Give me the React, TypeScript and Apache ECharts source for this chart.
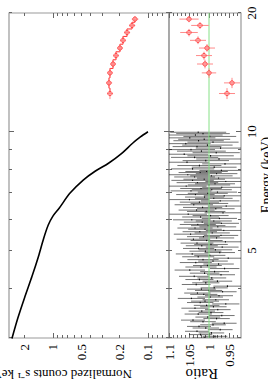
import React, { useEffect, useRef } from "react";
import * as echarts from "echarts";

// ---- tick / label values ----
const energyMajorTicks = [10];
const energyMinorTicks = [3, 4, 5, 6, 7, 8, 9, 20];
const energyLabels = [5, 10, 20];
const countMajorTicks = [0.1, 1];
const countMinorTicks = [0.06, 0.07, 0.08, 0.09, 0.2, 0.3, 0.4, 0.5, 0.6, 0.7, 0.8, 0.9, 2];
const countLabels = [0.1, 0.2, 0.5, 1, 2];
const ratioMajorTicks = [0.95, 1, 1.05, 1.1];
const ratioMinorTicks = [0.93, 0.94, 0.96, 0.97, 0.98, 0.99, 1.01, 1.02, 1.03, 1.04, 1.06, 1.07, 1.08, 1.09];
const ratioLabels = [0.95, 1, 1.05, 1.1];

// ---- black spectrum (counts panel) ----
const blackCurveE = [2.99, 3.37, 3.82, 4.3, 4.83, 5.37, 5.8, 6.11, 6.4, 6.99, 7.54, 7.94, 8.32, 8.8, 9.35, 9.7, 10.0];
const blackCurveC = [2.7, 2.34, 1.97, 1.66, 1.42, 1.25, 1.12, 1.0, 0.86, 0.66, 0.48, 0.36, 0.26, 0.19, 0.145, 0.12, 0.1];

// ---- black ratio data ----
const blackE = [
  3.0, 3.03, 3.06, 3.09, 3.12, 3.15, 3.18, 3.21, 3.24, 3.27, 3.3, 3.33, 3.36, 3.39, 3.42, 3.45, 3.48, 3.51, 3.54, 3.57,
  3.6, 3.63, 3.66, 3.69, 3.72, 3.75, 3.78, 3.81, 3.84, 3.87, 3.9, 3.93, 3.96, 3.99,
  4.02, 4.06, 4.1, 4.14, 4.18, 4.22, 4.26, 4.3, 4.34, 4.38, 4.42, 4.46, 4.5, 4.54, 4.58, 4.62, 4.66, 4.7, 4.74, 4.78,
  4.82, 4.86, 4.9, 4.94, 4.98, 5.02, 5.06, 5.1, 5.14, 5.18, 5.22, 5.26, 5.3, 5.34, 5.38, 5.42, 5.46, 5.5, 5.54, 5.58,
  5.62, 5.66, 5.7, 5.74, 5.78, 5.82, 5.86, 5.9, 5.94, 5.98,
  6.03, 6.08, 6.13, 6.18, 6.23, 6.28, 6.33, 6.38, 6.43, 6.48, 6.53, 6.58, 6.63, 6.68, 6.73, 6.78, 6.83, 6.88, 6.93, 6.98,
  7.03, 7.08, 7.13, 7.18, 7.23, 7.28, 7.33, 7.38, 7.43, 7.48, 7.53, 7.58, 7.63, 7.68, 7.73, 7.78, 7.83, 7.88, 7.93, 7.98,
  8.05, 8.13, 8.21, 8.29, 8.37, 8.45, 8.53, 8.61, 8.69, 8.77, 8.85, 8.93, 9.01, 9.09, 9.17, 9.25, 9.33, 9.41, 9.49, 9.57,
  9.65, 9.73, 9.81, 9.89, 9.97,
];
const blackRatio = [
  1.012, 0.985, 1.021, 0.994, 1.03, 0.972, 1.008, 1.025, 0.99, 0.962,
  1.015, 1.04, 0.981, 1.003, 0.968, 1.027, 0.995, 1.018, 0.978, 1.035,
  0.989, 1.006, 0.958, 1.022, 1.01, 0.983, 1.044, 0.997, 0.975, 1.013,
  1.029, 0.966, 1.001, 1.019,
  0.987, 0.954, 1.032, 1.008, 0.979, 1.024, 0.993, 1.037, 0.97, 1.011,
  0.986, 1.048, 0.961, 1.02, 1.004, 0.976, 1.033, 0.99, 1.015, 0.952,
  1.027, 0.998, 1.042, 0.973, 1.009, 0.984, 1.026, 0.967, 1.018, 0.995,
  1.03, 0.959, 1.006, 1.039, 0.981, 1.014, 0.97, 1.046, 0.992, 1.023,
  0.963, 1.01, 1.035, 0.978, 1.002, 1.028, 0.969, 1.017, 0.988, 1.043,
  0.974, 1.021, 0.996, 1.052, 0.965, 1.007, 1.031, 0.983, 1.016, 0.957,
  1.038, 0.999, 1.024, 0.972, 1.049, 0.988, 1.011, 0.962, 1.034, 1.003,
  0.979, 1.045, 0.993, 1.02, 0.968, 1.057, 1.0, 0.985, 1.029, 0.958,
  1.041, 1.012, 0.976, 1.036, 0.994, 1.053, 0.981, 1.022, 1.006, 0.969,
  1.041, 0.987, 1.024, 0.96, 1.055, 1.008, 0.975, 1.036, 0.996, 1.062,
  0.982, 1.019, 1.045, 0.971, 1.03, 1.004, 1.058, 0.99, 1.026, 1.012,
  1.048, 0.998, 1.034, 1.015, 1.027,
];
const blackRatioErr = [
  0.03, 0.031, 0.029, 0.032, 0.03, 0.031, 0.033, 0.03, 0.032, 0.031,
  0.032, 0.03, 0.033, 0.031, 0.032, 0.034, 0.031, 0.033, 0.032, 0.034,
  0.033, 0.032, 0.034, 0.033, 0.035, 0.033, 0.034, 0.032, 0.035, 0.034,
  0.033, 0.035, 0.034, 0.036,
  0.034, 0.035, 0.036, 0.034, 0.037, 0.035, 0.036, 0.038, 0.035, 0.037,
  0.036, 0.038, 0.037, 0.039, 0.036, 0.038, 0.04, 0.037, 0.039, 0.038,
  0.04, 0.039, 0.041, 0.038, 0.04, 0.042, 0.039, 0.041, 0.04, 0.042,
  0.041, 0.043, 0.04, 0.042, 0.044, 0.041, 0.043, 0.042, 0.044, 0.043,
  0.045, 0.042, 0.044, 0.046, 0.043, 0.045, 0.044, 0.046, 0.045, 0.047,
  0.044, 0.046, 0.045, 0.047, 0.046, 0.048, 0.045, 0.047, 0.049, 0.046,
  0.048, 0.047, 0.049, 0.048, 0.05, 0.047, 0.049, 0.051, 0.048, 0.05,
  0.049, 0.051, 0.05, 0.052, 0.049, 0.051, 0.053, 0.05, 0.052, 0.051,
  0.053, 0.052, 0.054, 0.051, 0.053, 0.055, 0.052, 0.054, 0.053, 0.055,
  0.054, 0.056, 0.055, 0.057, 0.056, 0.058, 0.057, 0.059, 0.058, 0.06,
  0.059, 0.061, 0.06, 0.062, 0.061, 0.063, 0.062, 0.064, 0.063, 0.065,
  0.064, 0.066, 0.068, 0.067, 0.07,
];

// ---- red data ----
const redE = [12.5, 13.3, 14.1, 14.85, 15.6, 16.3, 17.05, 17.85, 18.6, 19.3];
const redCounts = [0.251, 0.257, 0.251, 0.233, 0.217, 0.197, 0.183, 0.166, 0.147, 0.137];
const redCountsErr = [0.018, 0.019, 0.017, 0.016, 0.015, 0.014, 0.013, 0.012, 0.011, 0.011];
const redRatio = [0.955, 0.9425, 1.0, 1.01, 1.0125, 1.005, 1.0275, 1.05, 1.0225, 1.05];
const redRatioErr = [0.02, 0.02, 0.018, 0.02, 0.02, 0.02, 0.02, 0.022, 0.022, 0.024];

// ---- unity line ----
const unityE = [3, 20];
const unityRatio = [1, 1];

const FONT = "'Liberation Serif','Times New Roman',Times,serif";
const TICK = { color: "#666", width: 1 };

function edges(e: number[]) {
  return e.map((v, i) => {
    const lo = i > 0 ? (e[i - 1] + v) / 2 : v - (e[i + 1] - v) / 2;
    const hi = i < e.length - 1 ? (v + e[i + 1]) / 2 : v + (v - e[i - 1]) / 2;
    return [lo, hi];
  });
}

const fmt = (v: number) => String(parseFloat(Number(v).toPrecision(3)));

function xAx(grid: number, pos: string, ticks: number[], len: number, labels?: boolean) {
  return {
    type: "log",
    logBase: 10,
    gridIndex: grid,
    position: pos,
    min: 3,
    max: 20,
    axisLine: { show: false, onZero: false },
    axisTick: { show: true, inside: true, length: len, customValues: ticks, lineStyle: TICK },
    axisLabel: labels
      ? { show: true, customValues: energyLabels, margin: 4, fontSize: 13, fontFamily: FONT, color: "#000", formatter: fmt, showMinLabel: true, showMaxLabel: true }
      : { show: false },
    splitLine: { show: false },
  };
}

function yAx(grid: number, pos: string, kind: "log" | "value", min: number, max: number, ticks: number[], len: number, labels?: number[]) {
  return {
    type: kind,
    gridIndex: grid,
    position: pos,
    min,
    max,
    axisLine: { show: false, onZero: false },
    axisTick: { show: true, inside: true, length: len, customValues: ticks, lineStyle: TICK },
    axisLabel: labels
      ? { show: true, customValues: labels, margin: 6, fontSize: 13, fontFamily: FONT, color: "#000", formatter: fmt, showMinLabel: true, showMaxLabel: true }
      : { show: false },
    splitLine: { show: false },
  };
}

function crossRenderer(errColor: string, barColor: string, marker: any) {
  return (params: any, api: any) => {
    const x = api.value(0), y = api.value(1);
    const xlo = api.value(2), xhi = api.value(3), ylo = api.value(4), yhi = api.value(5);
    const a = api.coord([xlo, y]);
    const b = api.coord([xhi, y]);
    const c = api.coord([x, ylo]);
    const d = api.coord([x, yhi]);
    const m = api.coord([x, y]);
    const children: any[] = [
      { type: "line", shape: { x1: c[0], y1: c[1], x2: d[0], y2: d[1] }, style: { stroke: errColor, lineWidth: 1 } },
      { type: "line", shape: { x1: a[0], y1: a[1], x2: b[0], y2: b[1] }, style: { stroke: barColor, lineWidth: 1 } },
    ];
    if (marker) {
      children.push({ type: "circle", shape: { cx: m[0], cy: m[1], r: marker.r }, style: { fill: marker.fill, stroke: marker.stroke, lineWidth: 0.8 } });
    }
    return { type: "group", children };
  };
}

function buildOption() {
  const bEdges = edges(blackE);
  const rEdges = edges(redE);
  const blackRatioData = blackE.map((e, i) => [e, blackRatio[i], bEdges[i][0], bEdges[i][1], blackRatio[i] - blackRatioErr[i], blackRatio[i] + blackRatioErr[i]]);
  const redRatioData = redE.map((e, i) => [e, redRatio[i], rEdges[i][0], rEdges[i][1], redRatio[i] - redRatioErr[i], redRatio[i] + redRatioErr[i]]);
  const redCountData = redE.map((e, i) => [e, redCounts[i], rEdges[i][0], rEdges[i][1], redCounts[i] - redCountsErr[i], redCounts[i] + redCountsErr[i]]);

  return {
    animation: false,
    backgroundColor: "#fff",
    grid: [
      { left: 46, right: 13, top: 9, height: 160, show: true, borderColor: "#999", borderWidth: 1.2, backgroundColor: "transparent" },
      { left: 46, right: 13, top: 169, height: 72, show: true, borderColor: "#999", borderWidth: 1.2, backgroundColor: "transparent" },
    ],
    xAxis: [
      xAx(0, "bottom", energyMajorTicks, 5),
      xAx(0, "bottom", energyMinorTicks, 3),
      xAx(0, "top", energyMajorTicks, 5),
      xAx(0, "top", energyMinorTicks, 3),
      xAx(1, "bottom", energyMajorTicks, 5, true),
      xAx(1, "bottom", energyMinorTicks, 3),
      xAx(1, "top", energyMajorTicks, 5),
      xAx(1, "top", energyMinorTicks, 3),
    ],
    yAxis: [
      yAx(0, "left", "log", 0.06, 2.9, countMajorTicks, 5, countLabels),
      yAx(0, "left", "log", 0.06, 2.9, countMinorTicks, 3),
      yAx(0, "right", "log", 0.06, 2.9, countMajorTicks, 5),
      yAx(0, "right", "log", 0.06, 2.9, countMinorTicks, 3),
      yAx(1, "left", "value", 0.92, 1.1, ratioMajorTicks, 5, ratioLabels),
      yAx(1, "left", "value", 0.92, 1.1, ratioMinorTicks, 3),
      yAx(1, "right", "value", 0.92, 1.1, ratioMajorTicks, 5),
      yAx(1, "right", "value", 0.92, 1.1, ratioMinorTicks, 3),
    ],
    graphic: [
      {
        type: "text",
        x: 10,
        y: 132,
        rotation: Math.PI / 2,
        style: { text: "Normalized counts s\u207B\u00B9 keV\u207B\u00B9", fontSize: 13, fontFamily: FONT, fill: "#000", align: "left", verticalAlign: "middle" },
      },
      {
        type: "text",
        x: 10,
        y: 218,
        rotation: Math.PI / 2,
        style: { text: "Ratio", fontSize: 15, fontFamily: FONT, fill: "#000", align: "left", verticalAlign: "middle" },
      },
      {
        type: "text",
        x: 209,
        y: 259,
        style: { text: "Energy (keV)", fontSize: 14, fontFamily: FONT, fill: "#000", align: "center", verticalAlign: "top" },
      },
    ],
    series: [
      {
        type: "line",
        xAxisIndex: 0,
        yAxisIndex: 0,
        data: blackCurveE.map((e, i) => [e, blackCurveC[i]]),
        showSymbol: false,
        smooth: 0.3,
        lineStyle: { color: "#000", width: 1.6 },
        z: 3,
      },
      {
        type: "line",
        xAxisIndex: 0,
        yAxisIndex: 0,
        data: redE.map((e, i) => [e, redCounts[i]]),
        showSymbol: false,
        step: "middle",
        lineStyle: { color: "#ff3030", width: 1 },
        z: 3,
      },
      {
        type: "custom",
        xAxisIndex: 0,
        yAxisIndex: 0,
        data: redCountData,
        encode: { x: 0, y: 1 },
        clip: true,
        renderItem: crossRenderer("#ff8a8a", "#ff8a8a", { r: 2.2, fill: "rgba(255,140,140,0.55)", stroke: "#ff3a3a" }),
        z: 4,
      },
      {
        type: "custom",
        xAxisIndex: 4,
        yAxisIndex: 4,
        data: blackRatioData,
        encode: { x: 0, y: 1 },
        clip: true,
        renderItem: crossRenderer("rgba(0,0,0,0.55)", "#000", null),
        z: 3,
      },
      {
        type: "line",
        xAxisIndex: 4,
        yAxisIndex: 4,
        data: unityE.map((e, i) => [e, unityRatio[i]]),
        showSymbol: false,
        lineStyle: { color: "#86e086", width: 1 },
        z: 5,
      },
      {
        type: "custom",
        xAxisIndex: 4,
        yAxisIndex: 4,
        data: redRatioData,
        encode: { x: 0, y: 1 },
        clip: true,
        renderItem: crossRenderer("#ff8a8a", "#ff8a8a", { r: 2.2, fill: "rgba(255,140,140,0.55)", stroke: "#ff3a3a" }),
        z: 6,
      },
    ],
  };
}

export default function App() {
  const ref = useRef<HTMLDivElement>(null);
  useEffect(() => {
    if (!ref.current) return;
    const chart = echarts.init(ref.current, undefined, { renderer: "svg", width: 384, height: 268 });
    chart.setOption(buildOption() as any);
    return () => chart.dispose();
  }, []);
  return (
    <div style={{ position: "fixed", left: 0, top: 0, width: 268, height: 384, overflow: "hidden", background: "#fff" }}>
      <div
        ref={ref}
        style={{ position: "absolute", left: 0, top: 0, width: 384, height: 268, transformOrigin: "0 0", transform: "translateY(384px) rotate(-90deg)" }}
      />
    </div>
  );
}
